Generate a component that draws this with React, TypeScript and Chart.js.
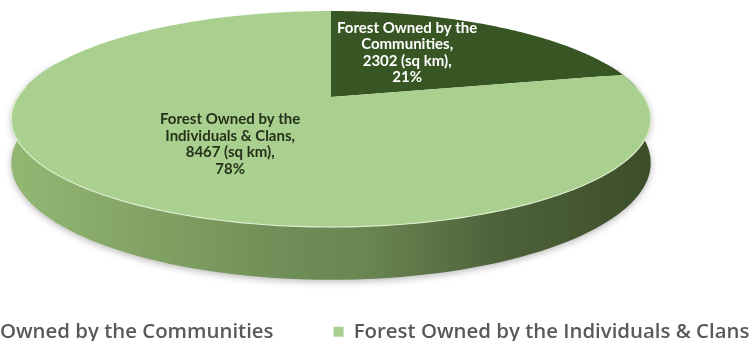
import React, { useEffect, useRef } from 'react';
import { Chart, registerables } from 'chart.js';

Chart.register(...registerables);

// ---- data ----
const categories = ['Forest Owned by the Communities', 'Forest Owned by the Individuals & Clans'];
const labelHeads = ['Forest Owned by the', 'Forest Owned by the'];
const labelNames = ['Communities,', 'Individuals & Clans,'];
const areaSqKm = [2302, 8467];
const percentLabels = ['21%', '78%'];

// ---- styles ----
const topColors = ['#375623', '#a9d08e'];
const labelColors = ['#ffffff', '#24321a'];

// 3D projection layout (canvas px)
const PIE = { cy: 97, rx: 313, ry: 103.5, persp: 0.204, thick: 42 };
const LABEL_RADIUS = 0.5;
const LABEL_SHIFT = [
  [-14, -7],
  [5, 3],
];

function project(cx: number, a: number, rr: number, z: number) {
  const u = rr * Math.cos(a);
  const v = rr * Math.sin(a);
  const s = 1 / (1 - PIE.persp * v);
  return [cx + PIE.rx * u * s, PIE.cy + PIE.ry * v * s + PIE.thick * z * s];
}

const pie3d = {
  id: 'pie3d',
  beforeDatasetsDraw(chart: any) {
    const ctx: CanvasRenderingContext2D = chart.ctx;
    const meta = chart.getDatasetMeta(0);
    const arcs = meta.data as any[];
    if (!arcs.length) return false;
    const cx = arcs[0].x;
    const deg = Math.PI / 180;
    const visA = -20 * deg;
    const visB = 200 * deg;

    // side bands
    ctx.save();
    const grad = ctx.createLinearGradient(cx - PIE.rx * 1.03, 0, cx + PIE.rx * 1.03, 0);
    grad.addColorStop(0, '#93b873');
    grad.addColorStop(0.2, '#83a466');
    grad.addColorStop(0.45, '#6e8c56');
    grad.addColorStop(0.55, '#6a8752');
    grad.addColorStop(0.75, '#4f633b');
    grad.addColorStop(1, '#3b4e28');
    ctx.shadowColor = 'rgba(0,0,0,0.28)';
    ctx.shadowBlur = 7;
    ctx.shadowOffsetY = 2;
    arcs.forEach((arc: any, i: number) => {
      const s = Math.max(arc.startAngle, visA);
      const e = Math.min(arc.endAngle, visB);
      if (e <= s) return;
      const n = 120;
      ctx.beginPath();
      for (let j = 0; j <= n; j++) {
        const a = s + ((e - s) * j) / n;
        const [x, y] = project(cx, a, 1, 0);
        if (j === 0) ctx.moveTo(x, y);
        else ctx.lineTo(x, y);
      }
      for (let j = n; j >= 0; j--) {
        const a = s + ((e - s) * j) / n;
        const [x, y] = project(cx, a, 1, 1);
        ctx.lineTo(x, y);
      }
      ctx.closePath();
      ctx.fillStyle = i === 0 ? '#2f4a1d' : grad;
      ctx.fill();
    });
    ctx.restore();

    // top faces
    ctx.save();
    arcs.forEach((arc: any, i: number) => {
      const s = arc.startAngle;
      const e = arc.endAngle;
      const n = 240;
      ctx.beginPath();
      const [c0, c1] = project(cx, 0, 0, 0);
      ctx.moveTo(c0, c1);
      for (let j = 0; j <= n; j++) {
        const a = s + ((e - s) * j) / n;
        const [x, y] = project(cx, a, 1, 0);
        ctx.lineTo(x, y);
      }
      ctx.closePath();
      ctx.fillStyle = topColors[i];
      ctx.fill();
    });
    // rim highlight
    ctx.beginPath();
    for (let j = 0; j <= 200; j++) {
      const a = -6 * deg + (192 * deg * j) / 200;
      const [x, y] = project(cx, a, 1, 0);
      if (j === 0) ctx.moveTo(x, y);
      else ctx.lineTo(x, y);
    }
    ctx.strokeStyle = 'rgba(226,242,212,0.9)';
    ctx.lineWidth = 1.2;
    ctx.stroke();
    ctx.restore();

    // data labels
    ctx.save();
    ctx.font = '700 15px Lato, "Open Sans", sans-serif';
    ctx.textAlign = 'center';
    ctx.textBaseline = 'middle';
    const lh = 16.5;
    arcs.forEach((arc: any, i: number) => {
      const mid = (arc.startAngle + arc.endAngle) / 2;
      const [ax, ay] = project(cx, mid, LABEL_RADIUS, 0);
      const x = ax + LABEL_SHIFT[i][0];
      const y = ay + LABEL_SHIFT[i][1];
      const lines = [labelHeads[i], labelNames[i], `${areaSqKm[i]} (sq km),`, percentLabels[i]];
      ctx.fillStyle = labelColors[i];
      lines.forEach((t, k) => {
        ctx.fillText(t, x, y + (k - 1.5) * lh);
      });
    });
    ctx.restore();
    return false;
  },
};

export default function App() {
  const ref = useRef<HTMLCanvasElement>(null);
  useEffect(() => {
    const chart = new Chart(ref.current as HTMLCanvasElement, {
      type: 'pie',
      data: {
        labels: categories,
        datasets: [
          {
            data: areaSqKm,
            backgroundColor: topColors,
            borderWidth: 0,
          },
        ],
      },
      options: {
        responsive: false,
        animation: false,
        layout: { padding: 0 },
        plugins: {
          tooltip: { enabled: false },
          legend: {
            position: 'bottom',
            labels: {
              boxWidth: 10,
              boxHeight: 10,
              padding: 60,
              color: '#595959',
              font: { family: '"Open Sans", sans-serif', size: 20.4, weight: '600' },
            },
          },
        },
      },
      plugins: [pie3d],
    } as any);
    return () => chart.destroy();
  }, []);
  return (
    <div
      style={{
        position: 'fixed',
        left: 0,
        top: 0,
        width: '100vw',
        height: '100vh',
        overflow: 'hidden',
        background: '#ffffff',
      }}
    >
      <div style={{ position: 'absolute', left: -169, top: 0, width: 1000, height: 352 }}>
        <canvas ref={ref} width={1000} height={352} style={{ display: 'block' }} />
      </div>
    </div>
  );
}
